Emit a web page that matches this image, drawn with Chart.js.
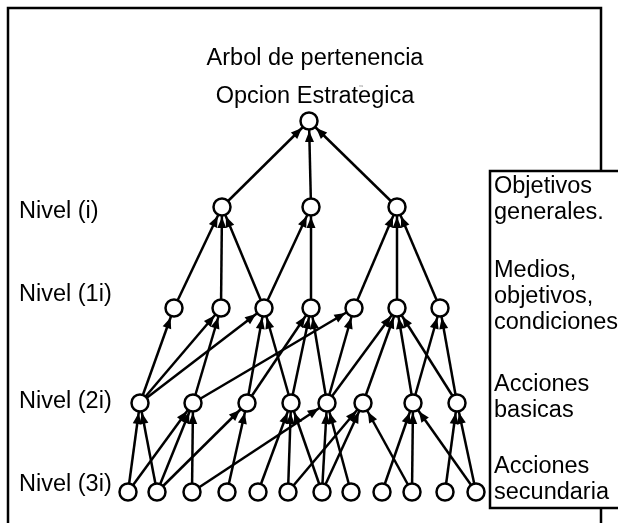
<!DOCTYPE html>
<html>
<head>
<meta charset="utf-8">
<script src="https://cdn.jsdelivr.net/npm/chart.js@4.4.1/dist/chart.umd.min.js"></script>
<style>
  html, body { margin: 0; padding: 0; background: #fff; }
  #tree { display: block; }
</style>
</head>
<body>
<canvas id="tree" width="618" height="523"></canvas>
<script>
// tree levels, top to bottom
const titleLines = ['Arbol de pertenencia', 'Opcion Estrategica'];
const levelLabels = ['Nivel (i)', 'Nivel (1i)', 'Nivel (2i)', 'Nivel (3i)'];
const legendLines = ['Objetivos', 'generales.', 'Medios,', 'objetivos,', 'condiciones', 'Acciones', 'basicas', 'Acciones', 'secundaria'];

const levelY = [121, 207, 308, 403, 492];
const topX = [309];
const nivelIX = [222, 311, 397];
const nivel1X = [174, 221, 264, 311, 354, 397, 440];
const nivel2X = [140, 193, 247, 291, 327, 363, 413, 457];
const nivel3X = [128, 157, 192, 227, 258, 288, 322, 351, 382, 412, 445, 476];

// links [lower node, upper node] between two neighbouring levels
const linksI = [[0, 0], [1, 0], [2, 0]];
const links1 = [[0, 0], [1, 0], [2, 0], [2, 1], [3, 1], [4, 2], [5, 2], [6, 2]];
const links2 = [[0, 0], [0, 1], [0, 2], [1, 1], [1, 4], [2, 2], [2, 3], [3, 2], [3, 3],
  [4, 3], [4, 4], [4, 5], [5, 5], [6, 5], [6, 6], [7, 5], [7, 6]];
const links3 = [[0, 0], [0, 1], [1, 0], [1, 1], [1, 2], [2, 1], [2, 4], [3, 2], [4, 3],
  [5, 3], [5, 5], [6, 3], [6, 4], [6, 5], [7, 4], [8, 6], [9, 5], [9, 6], [10, 7], [11, 6], [11, 7]];

const levels = [topX, nivelIX, nivel1X, nivel2X, nivel3X];
const linkSets = [linksI, links1, links2, links3];

const NODE_R = 8.5;
const FONT = '23.5px "Liberation Sans", Arial, sans-serif';

const nodes = [];
levels.forEach((xs, k) => xs.forEach((x) => nodes.push({ x, y: levelY[k] })));

const edges = [];
linkSets.forEach((links, k) => {
  const lower = levels[k + 1];
  const upper = levels[k];
  links.forEach(([a, b]) => {
    edges.push({ from: { x: lower[a], y: levelY[k + 1] }, to: { x: upper[b], y: levelY[k] } });
  });
});

const edgeDatasets = edges.map((e) => ({
  data: [e.from, e.to],
  showLine: true,
  borderColor: '#000',
  borderWidth: 2.5,
  pointRadius: 0,
  order: 1,
}));

const arrowPlugin = {
  id: 'arrows',
  afterDatasetsDraw(chart) {
    const { ctx, scales } = chart;
    ctx.save();
    ctx.fillStyle = '#000';
    edges.forEach((e) => {
      const x1 = scales.x.getPixelForValue(e.from.x);
      const y1 = scales.y.getPixelForValue(e.from.y);
      const x2 = scales.x.getPixelForValue(e.to.x);
      const y2 = scales.y.getPixelForValue(e.to.y);
      const len = Math.hypot(x2 - x1, y2 - y1);
      const ux = (x2 - x1) / len;
      const uy = (y2 - y1) / len;
      const tipX = x2 - ux * (NODE_R + 1.5);
      const tipY = y2 - uy * (NODE_R + 1.5);
      const bx = tipX - ux * 11;
      const by = tipY - uy * 11;
      ctx.beginPath();
      ctx.moveTo(tipX, tipY);
      ctx.lineTo(bx - uy * 4.5, by + ux * 4.5);
      ctx.lineTo(bx + uy * 4.5, by - ux * 4.5);
      ctx.closePath();
      ctx.fill();
    });
    ctx.restore();
  },
};

const framePlugin = {
  id: 'frame',
  beforeDraw(chart) {
    const ctx = chart.ctx;
    ctx.save();
    ctx.fillStyle = '#fff';
    ctx.fillRect(0, 0, chart.width, chart.height);
    ctx.restore();
  },
  afterDraw(chart) {
    const ctx = chart.ctx;
    ctx.save();
    ctx.strokeStyle = '#000';
    ctx.lineWidth = 2.5;
    ctx.beginPath();
    ctx.moveTo(8, 523); ctx.lineTo(8, 8); ctx.lineTo(601, 8); ctx.lineTo(601, 171);
    ctx.moveTo(601, 508); ctx.lineTo(601, 523);
    ctx.stroke();
    ctx.strokeRect(490, 171, 140, 337);

    ctx.fillStyle = '#000';
    ctx.font = FONT;
    ctx.textBaseline = 'middle';
    ctx.textAlign = 'center';
    ctx.fillText(titleLines[0], 315, 59);
    ctx.fillText(titleLines[1], 315, 97);

    ctx.textAlign = 'left';
    const labelY = [212, 295, 402, 485];
    levelLabels.forEach((t, i) => ctx.fillText(t, 19, labelY[i]));
    const legendY = [187, 213, 271, 297, 323, 385, 411, 467, 493];
    legendLines.forEach((t, i) => ctx.fillText(t, 494, legendY[i]));

    ctx.font = '4px "Liberation Sans", sans-serif';
    ctx.fillStyle = '#888';
    ctx.fillText('vu', 359, 86);
    ctx.restore();
  },
};

new Chart(document.getElementById('tree'), {
  type: 'scatter',
  data: {
    datasets: [
      {
        data: nodes,
        pointRadius: NODE_R,
        pointBackgroundColor: '#fff',
        pointBorderColor: '#000',
        pointBorderWidth: 2.5,
        order: 0,
      },
      ...edgeDatasets,
    ],
  },
  options: {
    responsive: false,
    animation: false,
    devicePixelRatio: 1,
    layout: { padding: 0, autoPadding: false },
    plugins: { legend: { display: false }, tooltip: { enabled: false }, title: { display: false } },
    scales: {
      x: { type: 'linear', min: 0, max: 618, display: false },
      y: { type: 'linear', min: 0, max: 523, reverse: true, display: false },
    },
  },
  plugins: [framePlugin, arrowPlugin],
});
</script>
</body>
</html>
